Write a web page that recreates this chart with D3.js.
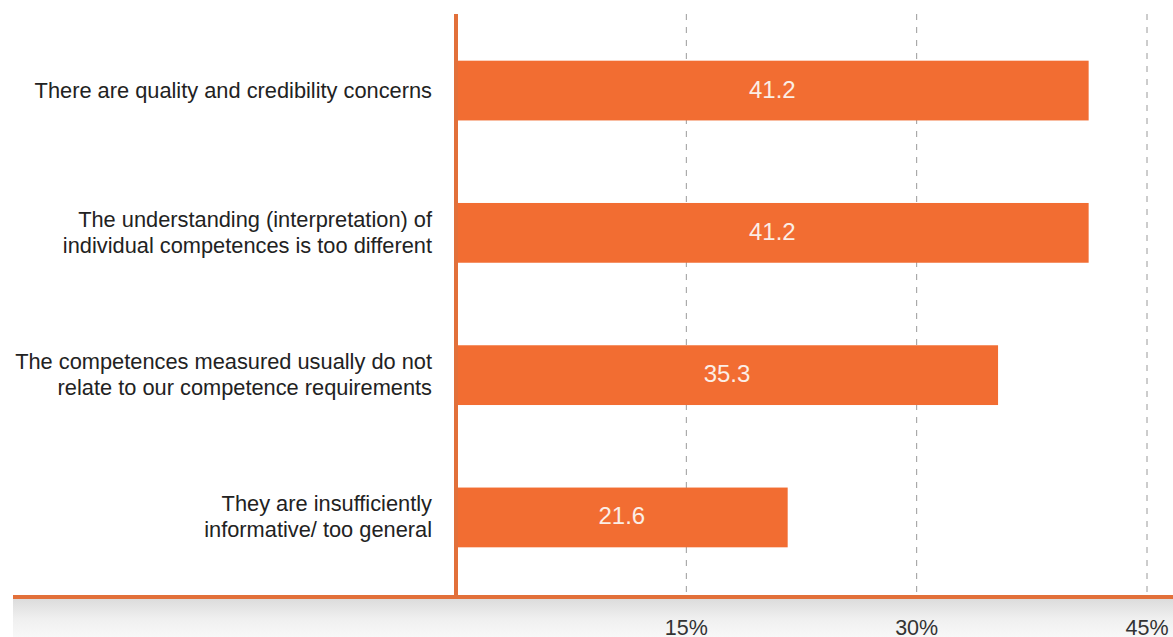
<!DOCTYPE html>
<html>
<head>
<meta charset="utf-8">
<script src="https://cdn.jsdelivr.net/npm/d3@7"></script>
<style>
  html, body { margin: 0; padding: 0; background: #fff; }
  svg { display: block; }
</style>
</head>
<body>
<svg id="chart" width="1173" height="637"></svg>
<script>
// Reasons given, top to bottom, each split into display lines
const categories = [
  ["There are quality and credibility concerns"],
  ["The understanding (interpretation) of", "individual competences is too different"],
  ["The competences measured usually do not", "relate to our competence requirements"],
  ["They are insufficiently", "informative/ too general"]
];
const values = [41.2, 41.2, 35.3, 21.6];
const tickValues = [15, 30, 45];
const tickLabels = ["15%", "30%", "45%"];

const W = 1173, H = 637;
const x0 = 456, x45 = 1147;
const plotTop = 14, baseY = 597;
const font = "Liberation Sans, Arial, Helvetica, sans-serif";

const svg = d3.select("#chart");
const defs = svg.append("defs");
const grad = defs.append("linearGradient").attr("id", "floor")
  .attr("x1", 0).attr("y1", 0).attr("x2", 0).attr("y2", 1);
grad.append("stop").attr("offset", 0).attr("stop-color", "#dcdcdc");
grad.append("stop").attr("offset", 0.5).attr("stop-color", "#efefef");
grad.append("stop").attr("offset", 1).attr("stop-color", "#f8f8f8");

const x = d3.scaleLinear().domain([0, 45]).range([x0, x45]);
const ids = categories.map((_, i) => i);
const y = d3.scaleBand().domain(ids).range([18, 590]).paddingInner(0.58).paddingOuter(0.3);

// gray floor under the baseline
svg.append("rect").attr("x", 13).attr("y", baseY + 2).attr("width", W - 13).attr("height", H - baseY - 2)
  .attr("fill", "url(#floor)");

// dashed gridlines
svg.append("g").selectAll("line").data(tickValues).join("line")
  .attr("x1", d => x(d)).attr("x2", d => x(d))
  .attr("y1", plotTop).attr("y2", baseY - 4)
  .attr("stroke", "#9a9a9a").attr("stroke-width", 1)
  .attr("stroke-dasharray", "6,7");

// bars
const barColor = "#f26d32";
svg.append("g").selectAll("rect").data(values).join("rect")
  .attr("x", x(0))
  .attr("y", (d, i) => y(i))
  .attr("width", d => x(d) - x(0))
  .attr("height", y.bandwidth())
  .attr("fill", barColor);

// value labels inside bars
svg.append("g").selectAll("text").data(values).join("text")
  .attr("x", d => (x(0) + x(d)) / 2)
  .attr("y", (d, i) => y(i) + y.bandwidth() / 2 + 7)
  .attr("text-anchor", "middle")
  .attr("font-family", font)
  .attr("font-size", 24)
  .attr("fill", "#fbeee6")
  .text(d => d.toFixed(1));

// category labels
const lab = svg.append("g").selectAll("text").data(categories).join("text")
  .attr("text-anchor", "end")
  .attr("font-family", font)
  .attr("font-size", 21.8)
  .attr("fill", "#222");
lab.each(function(lines, i) {
  const cy = y(i) + y.bandwidth() / 2;
  const lh = 26;
  const start = cy - (lines.length - 1) * lh / 2;
  d3.select(this).selectAll("tspan").data(lines).join("tspan")
    .attr("x", 432)
    .attr("y", (d, k) => start + k * lh + 7)
    .text(d => d);
});

// vertical axis line
svg.append("line").attr("x1", x(0)).attr("x2", x(0)).attr("y1", plotTop).attr("y2", baseY + 1)
  .attr("stroke", "#e2703a").attr("stroke-width", 4);

// baseline
svg.append("line").attr("x1", 13).attr("x2", W).attr("y1", baseY).attr("y2", baseY)
  .attr("stroke", "#e2703a").attr("stroke-width", 4);

// tick labels
svg.append("g").selectAll("text").data(tickValues).join("text")
  .attr("x", d => x(d))
  .attr("y", 635)
  .attr("text-anchor", "middle")
  .attr("font-family", font)
  .attr("font-size", 21.5)
  .attr("fill", "#333")
  .text((d, i) => tickLabels[i]);
</script>
</body>
</html>
